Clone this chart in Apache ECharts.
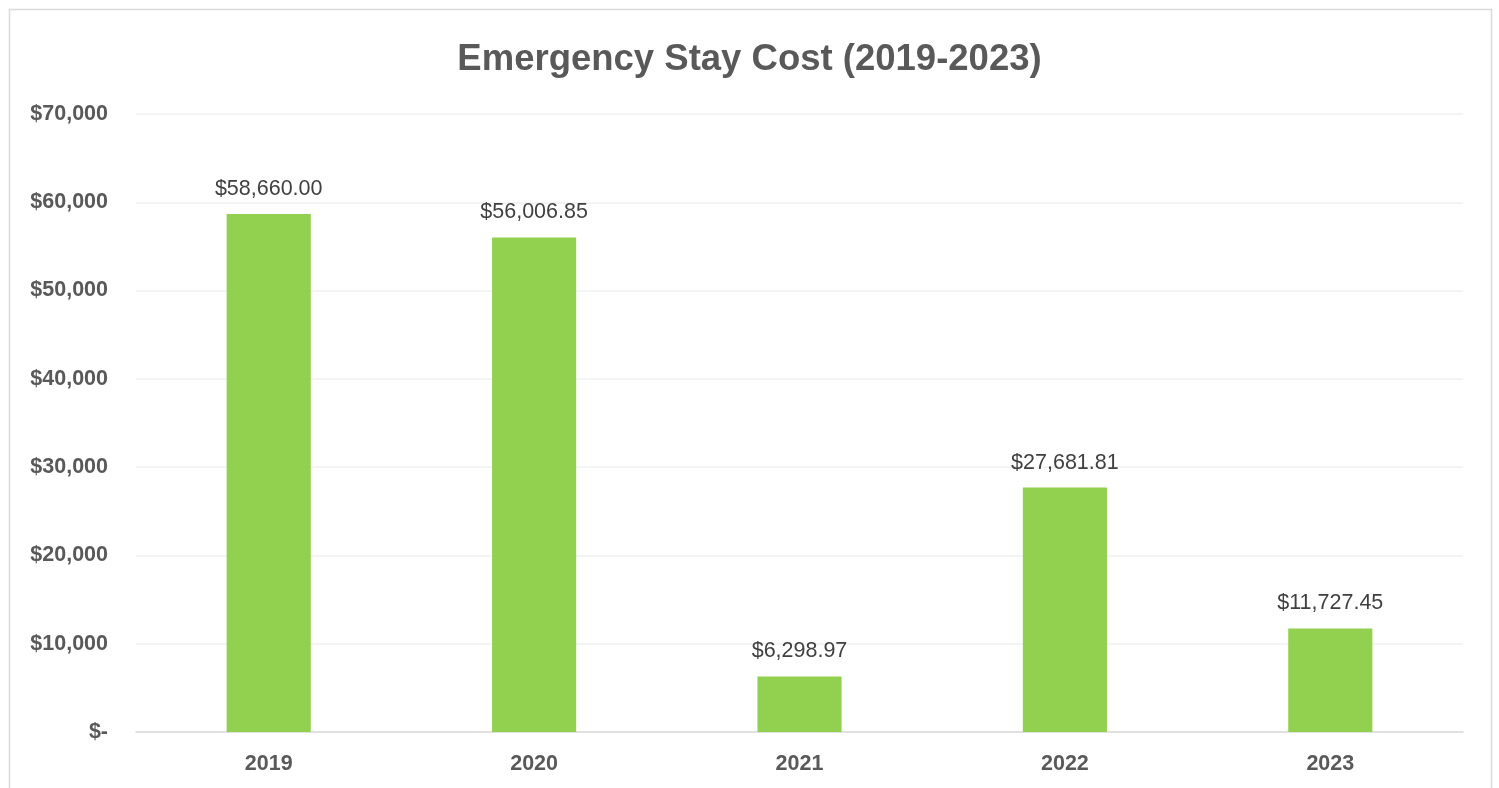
<!DOCTYPE html>
<html>
<head>
<meta charset="utf-8">
<script src="https://cdn.jsdelivr.net/npm/echarts@6/dist/echarts.min.js"></script>
<style>
html,body{margin:0;padding:0;background:#fff;}
#chart{width:1499px;height:788px;}
</style>
</head>
<body>
<div id="chart"></div>
<script>
var titleText = 'Emergency Stay Cost (2019-2023)';
var categories = ['2019', '2020', '2021', '2022', '2023'];
var costValues = [58660.00, 56006.85, 6298.97, 27681.81, 11727.45];
var yMin = 0, yMax = 70000, yInterval = 10000;

function axisFmt(v) {
  if (v === 0) return '$-';
  return '$' + v.toLocaleString('en-US');
}
function labelFmt(p) {
  return '$' + p.value.toLocaleString('en-US', {minimumFractionDigits: 2, maximumFractionDigits: 2});
}

var chart = echarts.init(document.getElementById('chart'), null, {renderer: 'canvas'});
chart.setOption({
  backgroundColor: '#ffffff',
  animation: false,
  textStyle: {fontFamily: '"Liberation Sans", Arial, sans-serif'},
  title: {
    text: titleText,
    left: 'center',
    top: 36,
    textStyle: {fontSize: 36.5, fontWeight: 'bold', color: '#595959', fontFamily: '"Liberation Sans", Arial, sans-serif'}
  },
  graphic: [{
    type: 'rect',
    silent: true,
    shape: {x: 9.5, y: 9.5, width: 1482, height: 820},
    style: {fill: 'none', stroke: '#d9d9d9', lineWidth: 1.5}
  }],
  grid: {left: 136, right: 36, top: 114, bottom: 56, containLabel: false},
  xAxis: {
    type: 'category',
    data: categories,
    axisLine: {show: true, lineStyle: {color: '#d9d9d9', width: 1.5}},
    axisTick: {show: false},
    axisLabel: {margin: 21, fontSize: 21.5, fontWeight: 'bold', color: '#595959'}
  },
  yAxis: {
    type: 'value',
    min: yMin, max: yMax, interval: yInterval,
    axisLine: {show: false},
    axisTick: {show: false},
    splitLine: {lineStyle: {color: '#f0f0f0', width: 1.5}},
    axisLabel: {margin: 28, fontSize: 21.5, fontWeight: 'bold', color: '#595959', formatter: axisFmt}
  },
  series: [{
    type: 'bar',
    data: costValues,
    barWidth: '31.7%',
    itemStyle: {color: '#92d050'},
    label: {
      show: true,
      position: 'top',
      distance: 14,
      fontSize: 21.5,
      color: '#404040',
      formatter: labelFmt
    }
  }]
});
</script>
</body>
</html>
